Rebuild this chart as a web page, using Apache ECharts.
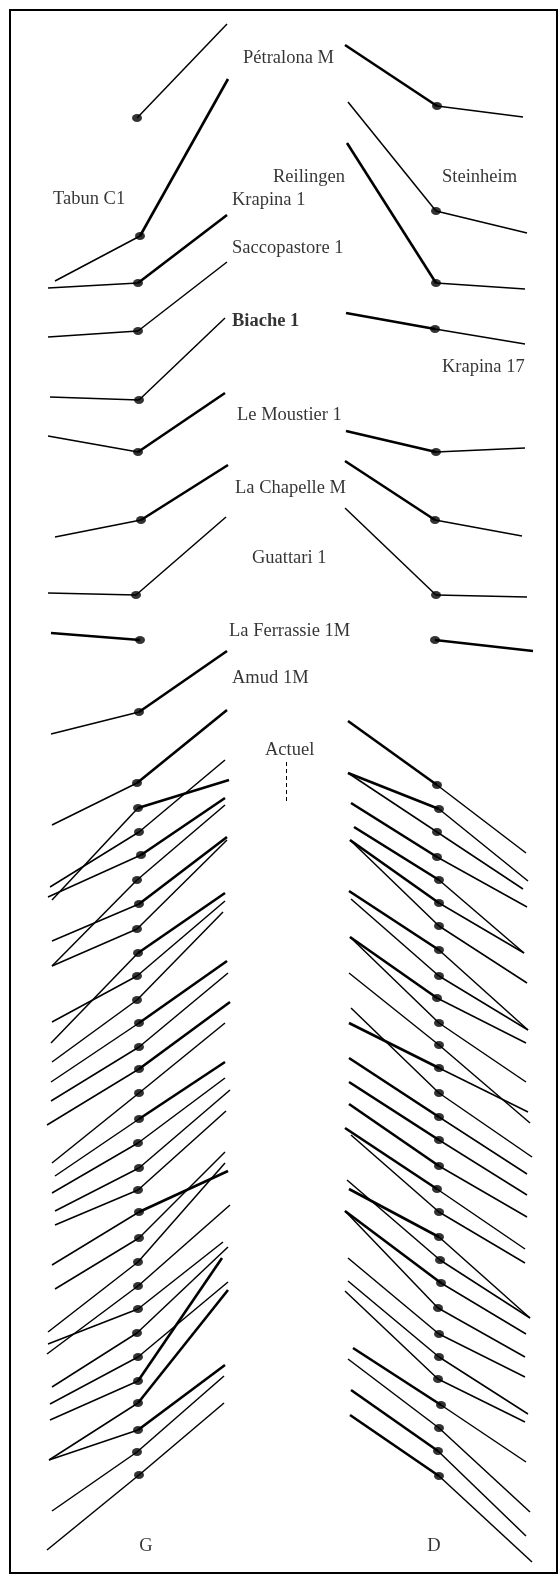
<!DOCTYPE html>
<html>
<head>
<meta charset="utf-8">
<script src="https://cdn.jsdelivr.net/npm/echarts@6/dist/echarts.min.js"></script>
<style>
  html, body { margin: 0; padding: 0; background: #fff; }
  #chart { width: 559px; height: 1575px; }
</style>
</head>
<body>
<div id="chart"></div>
<script>
// left side (G): vertex, end of the upper-right branch, end of the outer branch
const leftDots = [
  [137,118],[140,236],[138,283],[138,331],[139,400],[138,452],[141,520],[136,595],[140,640],[139,712],
  [137,783],[138,808],[139,832],[141,855],[137,880],[139,904],[137,929],[138,953],[137,976],[137,1000],
  [139,1023],[139,1047],[139,1069],[139,1093],[139,1119],[138,1143],[139,1168],[138,1190],[139,1212],[139,1238],
  [138,1262],[138,1286],[138,1309],[137,1333],[138,1357],[138,1381],[138,1403],[138,1430],[137,1452],[139,1475]
];
const leftUp = [
  [227,24],[228,79],[227,215],[227,262],[225,318],[225,393],[228,465],[226,517],null,[227,651],
  [227,710],[229,780],[225,760],[225,798],[225,805],[227,837],[227,840],[225,893],[225,901],[223,912],
  [227,961],[228,973],[230,1002],[225,1023],[225,1062],[225,1078],[230,1090],[226,1111],[228,1171],[225,1152],
  [225,1163],[230,1205],[223,1242],[228,1247],[228,1282],[222,1258],[228,1290],[225,1365],[224,1376],[224,1403]
];
const leftOut = [
  null,[55,281],[48,288],[48,337],[50,397],[48,436],[55,537],[48,593],[51,633],[51,734],
  [52,825],[52,900],[50,887],[48,897],[52,966],[52,941],[52,966],[51,1043],[52,1022],[52,1062],
  [51,1082],[51,1101],[47,1125],[52,1163],[55,1176],[52,1193],[55,1211],[55,1225],[52,1265],[55,1289],
  [48,1332],[47,1354],[48,1344],[52,1387],[50,1404],[50,1420],[49,1460],[49,1460],[52,1511],[47,1550]
];
const leftUpBold = [1,2,5,6,9,10,11,13,15,17,20,22,24,28,35,36,37];
const leftOutBold = [8];

// right side (D)
const rightDots = [
  [437,106],[436,211],[436,283],[435,329],[436,452],[435,520],[436,595],[435,640],
  [437,785],[439,809],[437,832],[437,857],[439,880],[439,903],[439,926],[439,950],[439,976],[437,998],
  [439,1023],[439,1045],[439,1068],[439,1093],[439,1117],[439,1140],[439,1166],[437,1189],[439,1212],[439,1237],
  [440,1260],[441,1283],[438,1308],[439,1334],[439,1357],[438,1379],[441,1405],[439,1428],[438,1451],[439,1476]
];
const rightIn = [
  [345,45],[348,102],[347,143],[346,313],[346,431],[345,461],[345,508],null,
  [348,721],[348,773],[348,773],[351,803],[354,827],[350,840],[350,840],[349,891],[351,899],[350,937],
  [350,937],[349,973],[349,1023],[351,1008],[349,1058],[349,1082],[349,1104],[345,1128],[351,1135],[349,1189],
  [347,1180],[345,1211],[345,1211],[348,1258],[348,1281],[345,1291],[353,1348],[348,1359],[351,1390],[350,1415]
];
const rightOut = [
  [523,117],[527,233],[525,289],[525,344],[525,448],[522,536],[527,597],[533,651],
  [526,853],[528,881],[523,889],[527,907],[524,953],[524,953],[527,983],[528,1030],[528,1030],[526,1043],
  [526,1082],[530,1123],[528,1112],[532,1157],[527,1174],[527,1195],[527,1217],[525,1249],[525,1263],[530,1318],
  [530,1318],[526,1334],[525,1357],[525,1377],[528,1414],[525,1422],[526,1462],[530,1512],[526,1536],[532,1562]
];
const rightInBold = [0,2,3,4,5,8,9,11,12,13,15,17,20,22,23,24,25,27,29,34,36,37];
const rightOutBold = [7];

const specimenNames = ['Pétralona M','Tabun C1','Reilingen','Steinheim','Krapina 1','Saccopastore 1','Biache 1',
  'Krapina 17','Le Moustier 1','La Chapelle M','Guattari 1','La Ferrassie 1M','Amud 1M','Actuel'];
const specimenAt = [[243,58],[53,199],[273,177],[442,177],[232,200],[232,248],[232,321],
  [442,367],[237,415],[235,488],[252,558],[229,631],[232,678],[265,750]];
const sideNames = ['G','D'];
const sideAt = [[146,1546],[434,1546]];
const actuelTick = [[286,762],[286,802]];

function segments(dots, ends, bold) {
  const out = [];
  dots.forEach((d, i) => {
    if (!ends[i]) return;
    out.push({ coords: [d, ends[i]], lineStyle: { width: bold.includes(i) ? 2.6 : 1.5 } });
  });
  return out;
}

const font = { fontFamily: 'Liberation Serif', fontSize: 18.5, color: '#000', textBorderWidth: 0 };

const chart = echarts.init(document.getElementById('chart'));
chart.setOption({
  animation: false,
  backgroundColor: '#fff',
  grid: { left: 10, top: 10, width: 547, height: 1563, show: true, borderColor: '#000', borderWidth: 2 },
  xAxis: { type: 'value', min: 10, max: 557, show: false },
  yAxis: { type: 'value', min: 10, max: 1573, inverse: true, show: false },
  series: [
    {
      type: 'lines',
      coordinateSystem: 'cartesian2d',
      lineStyle: { color: '#000', opacity: 1, curveness: 0 },
      data: [
        ...segments(leftDots, leftUp, leftUpBold),
        ...segments(leftDots, leftOut, leftOutBold),
        ...segments(rightDots, rightIn, rightInBold),
        ...segments(rightDots, rightOut, rightOutBold)
      ],
      z: 2
    },
    {
      type: 'lines',
      coordinateSystem: 'cartesian2d',
      lineStyle: { color: '#000', opacity: 1, width: 1, type: [4, 3] },
      data: [{ coords: actuelTick }],
      z: 2
    },
    {
      type: 'scatter',
      symbol: 'circle',
      symbolSize: [10, 8],
      itemStyle: { color: '#000' },
      data: [...leftDots, ...rightDots],
      z: 3
    },
    {
      type: 'scatter',
      symbolSize: 0,
      itemStyle: { color: 'transparent' },
      label: { show: true, position: 'right', distance: 0, formatter: '{b}', ...font },
      data: specimenNames.map((n, i) => ({
        name: n,
        value: specimenAt[i],
        label: n === 'Biache 1' ? { fontWeight: 'bold' } : {}
      })),
      z: 4
    },
    {
      type: 'scatter',
      symbolSize: 0,
      itemStyle: { color: 'transparent' },
      label: { show: true, position: 'inside', formatter: '{b}', ...font },
      data: sideNames.map((n, i) => ({ name: n, value: sideAt[i] })),
      z: 4
    }
  ]
});
</script>
</body>
</html>
